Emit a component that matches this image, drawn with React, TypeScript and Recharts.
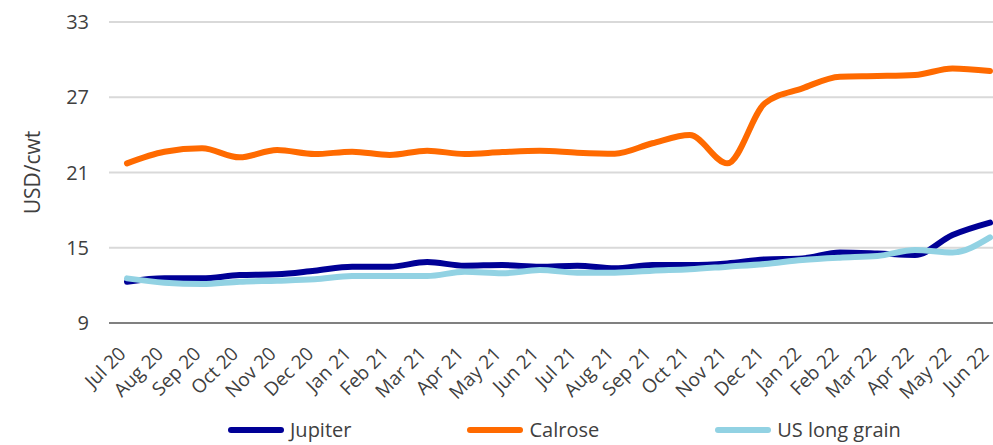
import React from 'react';
import { LineChart, Line, XAxis, YAxis, CartesianGrid, Legend, Label } from 'recharts';

const months = [
  'Jul 20', 'Aug 20', 'Sep 20', 'Oct 20', 'Nov 20', 'Dec 20',
  'Jan 21', 'Feb 21', 'Mar 21', 'Apr 21', 'May 21', 'Jun 21',
  'Jul 21', 'Aug 21', 'Sep 21', 'Oct 21', 'Nov 21', 'Dec 21',
  'Jan 22', 'Feb 22', 'Mar 22', 'Apr 22', 'May 22', 'Jun 22',
];

const jupiter = [
  12.29, 12.56, 12.56, 12.82, 12.88, 13.17,
  13.49, 13.49, 13.86, 13.57, 13.62, 13.49,
  13.57, 13.36, 13.62, 13.62, 13.75, 14.07,
  14.15, 14.63, 14.55, 14.42, 16.01, 17.0,
];

const calrose = [
  21.73, 22.66, 22.93, 22.21, 22.79, 22.47,
  22.66, 22.4, 22.74, 22.47, 22.63, 22.74,
  22.58, 22.5, 23.33, 23.99, 21.73, 26.52,
  27.71, 28.64, 28.69, 28.77, 29.3, 29.09,
];

const usLongGrain = [
  12.56, 12.21, 12.1, 12.29, 12.37, 12.48,
  12.74, 12.74, 12.74, 13.09, 12.96, 13.22,
  13.01, 13.01, 13.17, 13.28, 13.49, 13.7,
  14.02, 14.21, 14.34, 14.82, 14.63, 15.83,
];

const yTicks = [9, 15, 21, 27, 33];
const yLabel = 'USD/cwt';

const seriesInfo = [
  { key: 'jupiter', name: 'Jupiter', color: '#000096' },
  { key: 'calrose', name: 'Calrose', color: '#FF6A00' },
  { key: 'usLongGrain', name: 'US long grain', color: '#92D2E3' },
];

const data = months.map((m, i) => ({
  month: m,
  jupiter: jupiter[i],
  calrose: calrose[i],
  usLongGrain: usLongGrain[i],
}));

const FONT = '"Open Sans", "Noto Sans", sans-serif';
const TEXT = '#404040';

function XTick(props: any) {
  const { x, y, payload } = props;
  return (
    <g transform={`translate(${x},${y + 24})`}>
      <text textAnchor="end" transform="rotate(-45)" fontSize={19} fill={TEXT} fontFamily={FONT}>
        {payload.value}
      </text>
    </g>
  );
}

function YTick(props: any) {
  const { x, y, payload } = props;
  return (
    <text x={x} y={y} dy={7} textAnchor="end" fontSize={20} fill={TEXT} fontFamily={FONT}>
      {payload.value}
    </text>
  );
}

function renderLegend() {
  return (
    <div style={{ display: 'flex', alignItems: 'center', fontFamily: FONT, fontSize: 20, color: TEXT, whiteSpace: 'nowrap', lineHeight: '26px' }}>
      {seriesInfo.map((s, i) => (
        <div key={s.key} style={{ display: 'flex', alignItems: 'center', marginLeft: i ? 116 : 0 }}>
          <div style={{ width: 56, height: 6, borderRadius: 3, background: s.color, marginRight: 6 }} />
          <span>{s.name}</span>
        </div>
      ))}
    </div>
  );
}

export default function App() {
  return (
    <div style={{ position: 'absolute', left: 0, top: 0, width: 993, height: 445, overflow: 'hidden', background: '#fff' }}>
      <LineChart width={1010} height={445} data={data} margin={{ top: 22, right: 1, left: 0, bottom: 0 }}>
        <CartesianGrid horizontal vertical={false} stroke="#d9d9d9" strokeWidth={2} />
        <XAxis
          dataKey="month"
          height={122}
          interval={0}
          tickLine={false}
          axisLine={{ stroke: '#808080', strokeWidth: 2 }}
          padding={{ left: 18, right: 19 }}
          tick={<XTick />}
        />
        <YAxis
          width={109}
          domain={[9, 33]}
          ticks={yTicks}
          axisLine={false}
          tickLine={false}
          tickSize={0}
          tickMargin={20}
          tick={<YTick />}
        >
          <Label
            content={(p: any) => {
              const vb = p.viewBox || { x: 0, y: 22, width: 109, height: 301 };
              const cx = vb.x + 40;
              const cy = vb.y + vb.height / 2;
              return (
                <text x={cx} y={cy} textAnchor="middle" transform={`rotate(-90, ${cx}, ${cy})`} fontSize={21} fill={TEXT} fontFamily={FONT}>
                  {yLabel}
                </text>
              );
            }}
          />
        </YAxis>
        <Legend
          layout="horizontal"
          verticalAlign="middle"
          align="center"
          wrapperStyle={{ left: 228, top: 417, width: 'auto', height: 'auto' }}
          content={renderLegend}
        />
        {seriesInfo.map((s) => (
          <Line
            key={s.key}
            type="monotone"
            dataKey={s.key}
            name={s.name}
            stroke={s.color}
            strokeWidth={6}
            strokeLinecap="round"
            dot={false}
            activeDot={false}
            isAnimationActive={false}
          />
        ))}
      </LineChart>
    </div>
  );
}
